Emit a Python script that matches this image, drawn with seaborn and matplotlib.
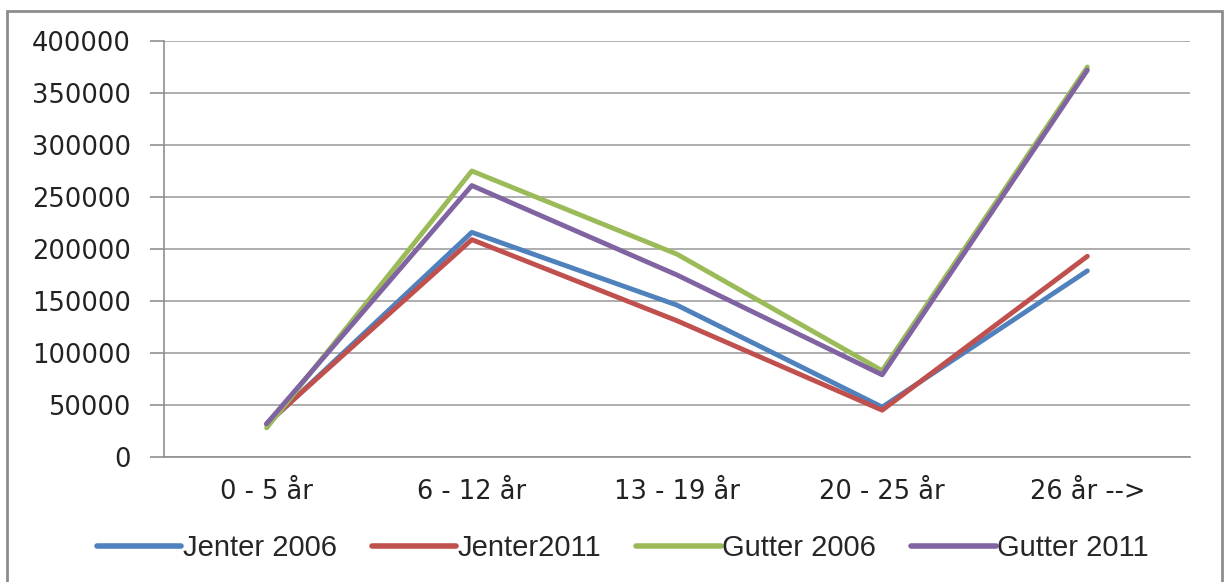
import pandas as pd
import numpy as np
import matplotlib
matplotlib.use("Agg")
import matplotlib.pyplot as plt
import seaborn as sns
from matplotlib.patches import Rectangle

# values
categories = ["0 - 5 år", "6 - 12 år", "13 - 19 år", "20 - 25 år", "26 år -->"]
jenter_2006 = [31000, 216000, 146000, 48000, 179000]
jenter_2011 = [32000, 209000, 131000, 45000, 193000]
gutter_2006 = [28000, 275000, 195000, 83000, 375000]
gutter_2011 = [32000, 261000, 175000, 79000, 372000]

series_names = ["Jenter 2006", "Jenter2011", "Gutter 2006", "Gutter 2011"]
colors = ["#4F81BD", "#C0504D", "#9BBB59", "#8064A2"]
y_ticks = np.arange(0, 400001, 50000)

df = pd.DataFrame({
    "Alder": categories * 4,
    "Antall": jenter_2006 + jenter_2011 + gutter_2006 + gutter_2011,
    "Serie": sum([[n] * len(categories) for n in series_names], []),
})

sns.set_style("white")
plt.rcParams["font.family"] = ["DejaVu Sans"]

fig = plt.figure(figsize=(12.26, 5.82), dpi=100)
ax = fig.add_axes([0.1338, 0.2148, 0.8368, 0.7148])

sns.lineplot(data=df, x="Alder", y="Antall", hue="Serie", hue_order=series_names,
             palette=colors, linewidth=3.5, sort=False, ax=ax, legend=True,
             solid_capstyle="round", solid_joinstyle="round")

ax.set_xlim(-0.5, len(categories) - 0.5)
ax.set_ylim(0, 400000)
ax.set_yticks(y_ticks)
ax.set_yticklabels([str(v) for v in y_ticks], fontsize=18.5, color="#222222")
ax.yaxis.grid(True, color="#a0a0a0", linewidth=1.2)
ax.set_axisbelow(True)

# Excel style: category labels centred, tick marks between categories
ax.set_xticks(range(len(categories)))
ax.set_xticklabels(categories, fontsize=18.5, color="#222222")
ax.tick_params(axis="x", which="major", length=0, pad=16)
ax.set_xticks(np.arange(-0.5, len(categories), 1.0), minor=True)
ax.tick_params(axis="x", which="minor", length=9, width=1.2, color="#909090")
ax.tick_params(axis="y", length=10, width=1.2, color="#909090", left=True, pad=14)

for side in ["top", "right"]:
    ax.spines[side].set_visible(False)
for side in ["left", "bottom"]:
    ax.spines[side].set_color("#909090")
    ax.spines[side].set_linewidth(1.2)

ax.set_xlabel("")
ax.set_ylabel("")

handles, labels = ax.get_legend_handles_labels()
for h in handles:
    h.set_linewidth(4)
    h.set_solid_capstyle("round")
ax.legend_.remove()
fig.legend(handles, labels, loc="center", bbox_to_anchor=(0.508, 0.058), ncol=4,
           frameon=False, handlelength=2.9, handletextpad=0.05, columnspacing=1.2,
           prop={"family": "Liberation Sans", "size": 21})

# chart frame
fig.patches.append(Rectangle((0.006, -0.01), 0.991, 0.9911, transform=fig.transFigure,
                             fill=False, edgecolor="#8c8c8c", linewidth=2))

fig.savefig("out.png", dpi=100)
